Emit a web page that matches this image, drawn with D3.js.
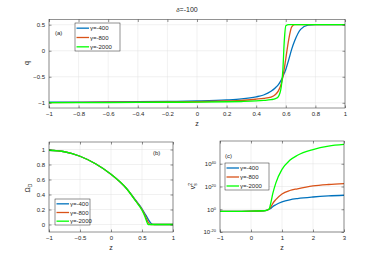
<!DOCTYPE html>
<html>
<head>
<meta charset="utf-8">
<script src="https://d3js.org/d3.v7.min.js"></script>
<style>
  body { margin: 0; background: #fff; }
  svg { font-family: "Liberation Sans", Arial, sans-serif; }
  .tick text { font-size: 6px; fill: #262626; }
  .domain { display: none; }
  .tick line { stroke: #262626; stroke-width: 0.5; }
  .grid line { stroke: #e3e3e3; stroke-width: 0.5; }
  .lbl { font-size: 6px; fill: #262626; }
</style>
</head>
<body>
<svg id="chart" width="374" height="260"></svg>
<script>
const gammas = ["γ=-400", "γ=-800", "γ=-2000"];
const colors = ["#0072BD", "#D95319", "#00FF00"];

// panel (a): q(z)
const zA = [-1, -0.6, -0.2, 0, 0.2, 0.3, 0.4, 0.45, 0.5, 0.53, 0.55, 0.57, 0.58, 0.59, 0.6, 0.62, 0.64, 0.66, 0.7, 0.75, 0.8, 1];
const qBlue  = [-0.99, -0.985, -0.975, -0.965, -0.945, -0.925, -0.885, -0.85, -0.78, -0.71, -0.65, -0.56, -0.5, -0.43, -0.36, -0.17, 0.03, 0.19, 0.41, 0.49, 0.5, 0.5];
const qRed   = [-0.995, -0.99, -0.985, -0.98, -0.965, -0.955, -0.93, -0.915, -0.89, -0.84, -0.77, -0.63, -0.5, -0.34, -0.15, 0.22, 0.46, 0.5, 0.5, 0.5, 0.5, 0.5];
const qGreen = [-0.998, -0.995, -0.99, -0.988, -0.98, -0.975, -0.965, -0.955, -0.94, -0.92, -0.88, -0.68, -0.38, 0.2, 0.48, 0.5, 0.5, 0.5, 0.5, 0.5, 0.5, 0.5];

// panel (b): Omega_D(z)
const zB = [-1, -0.75, -0.5, -0.25, 0, 0.25, 0.4, 0.5, 0.55, 0.58, 0.6, 0.63, 0.66, 0.7, 1];
const omBlue  = [0.99, 0.97, 0.91, 0.81, 0.67, 0.48, 0.32, 0.21, 0.14, 0.1, 0.07, 0.03, 0.005, 0, 0];
const omRed   = [0.99, 0.97, 0.91, 0.81, 0.67, 0.48, 0.315, 0.2, 0.12, 0.065, 0.03, 0.003, 0, 0, 0];
const omGreen = [0.99, 0.97, 0.91, 0.81, 0.67, 0.48, 0.31, 0.19, 0.1, 0.03, 0, 0, 0, 0, 0];

// panel (c): v_s^2(z), log axis
const zC = [-1, -0.5, 0, 0.4, 0.5, 0.58, 0.65, 0.7, 0.8, 1, 1.25, 1.5, 2, 2.5, 3];
const vBlue  = [0.016, 0.016, 0.02, 0.05, 0.13, 1, 10, 200, 1e4, 3e6, 2e8, 2.5e9, 6e10, 5e11, 2e12];
const vRed   = [0.016, 0.016, 0.02, 0.05, 0.13, 1, 300, 1e5, 3e8, 3e13, 3e16, 1e18, 3e20, 6e21, 4e22];
const vGreen = [0.016, 0.016, 0.02, 0.05, 0.13, 1, 1e7, 3e13, 1e23, 1e35, 1e43, 3e47, 3e52, 3e55, 1e57];

const xTicksA = [-1, -0.8, -0.6, -0.4, -0.2, 0, 0.2, 0.4, 0.6, 0.8, 1];
const yTicksA = [-1, -0.5, 0, 0.5];
const xTicksB = [-1, -0.5, 0, 0.5, 1];
const yTicksB = [0, 0.2, 0.4, 0.6, 0.8, 1];
const xTicksC = [-1, 0, 1, 2, 3];
const yTicksC = [1e-20, 1, 1e20, 1e40];

const svg = d3.select("#chart");

svg.append("text").attr("x", 187).attr("y", 12).attr("text-anchor", "middle")
    .style("font-size", "7px").style("fill", "#262626")
    .html('<tspan style="font-style:italic;font-size:6px">δ</tspan>=-100');

function panel(p) {
    const x = p.xScale.range([p.left, p.right]);
    const y = p.yScale.range([p.bottom, p.top]);
    const g = svg.append("g");

    // grid
    g.append("g").attr("class", "grid").selectAll("line.v").data(p.xTicks).enter().append("line")
        .attr("x1", d => x(d)).attr("x2", d => x(d)).attr("y1", p.top).attr("y2", p.bottom);
    g.append("g").attr("class", "grid").selectAll("line.h").data(p.yTicks).enter().append("line")
        .attr("y1", d => y(d)).attr("y2", d => y(d)).attr("x1", p.left).attr("x2", p.right);

    // lines
    const line = d3.line().x(d => x(d[0])).y(d => y(d[1])).curve(d3.curveMonotoneX);
    p.series.forEach((s, i) => {
        g.append("path").datum(p.z.map((z, j) => [z, s[j]]))
            .attr("d", line).attr("fill", "none")
            .attr("stroke", colors[i]).attr("stroke-width", 1.3);
    });

    // axes with inward ticks
    g.append("g").attr("transform", `translate(0,${p.bottom})`)
        .call(d3.axisBottom(x).tickValues(p.xTicks).tickSize(-2.5).tickPadding(4).tickFormat(p.xFormat || d3.format("")));
    g.append("g").attr("transform", `translate(0,${p.top})`)
        .call(d3.axisTop(x).tickValues(p.xTicks).tickSize(-2.5).tickFormat(""));
    const ya = g.append("g").attr("transform", `translate(${p.left},0)`)
        .call(d3.axisLeft(y).tickValues(p.yTicks).tickSize(-2.5).tickPadding(4).tickFormat(p.yFormat || d3.format("")));
    g.append("g").attr("transform", `translate(${p.right},0)`)
        .call(d3.axisRight(y).tickValues(p.yTicks).tickSize(-2.5).tickFormat(""));
    if (p.logLabels) {
        ya.selectAll(".tick text").text(null).each(function(d) {
            const t = d3.select(this);
            t.append("tspan").text("10");
            t.append("tspan").attr("dy", "-0.5em").style("font-size", "4px").text(Math.round(Math.log10(d)));
        });
    }

    g.append("rect").attr("x", p.left).attr("y", p.top)
        .attr("width", p.right - p.left).attr("height", p.bottom - p.top)
        .attr("fill", "none").attr("stroke", "#262626").attr("stroke-width", 0.5);

    // x label
    g.append("text").attr("class", "lbl").attr("x", (p.left + p.right) / 2).attr("y", p.bottom + 18)
        .attr("text-anchor", "middle").style("font-size", "7px").text("z");

    // panel tag
    g.append("text").attr("class", "lbl").attr("x", p.tag[1]).attr("y", p.tag[2]).text(p.tag[0]);

    // legend
    const L = p.legend;
    const lg = g.append("g");
    lg.append("rect").attr("x", L.x).attr("y", L.y).attr("width", L.w).attr("height", L.h)
        .attr("fill", "#fff").attr("stroke", "#262626").attr("stroke-width", 0.5);
    gammas.forEach((name, i) => {
        const yy = L.y + L.h * (i + 0.5) / 3 + 0.5;
        lg.append("line").attr("x1", L.x + 1.5).attr("x2", L.x + 14).attr("y1", yy).attr("y2", yy)
            .attr("stroke", colors[i]).attr("stroke-width", 1.3);
        lg.append("text").attr("class", "lbl").attr("x", L.x + 15).attr("y", yy + 2.1).text(name);
    });
    return g;
}

panel({
    xScale: d3.scaleLinear().domain([-1, 1]), yScale: d3.scaleLinear().domain([-1.1, 0.6]),
    left: 49, right: 345, top: 19.5, bottom: 108,
    xTicks: xTicksA, yTicks: yTicksA, z: zA, series: [qBlue, qRed, qGreen],
    tag: ["(a)", 55, 35], legend: { x: 75, y: 23, w: 45, h: 28 }
});
svg.append("text").attr("class", "lbl").attr("transform", "translate(29,63) rotate(-90)")
    .attr("text-anchor", "middle").style("font-size", "7px").text("q");

panel({
    xScale: d3.scaleLinear().domain([-1, 1]), yScale: d3.scaleLinear().domain([-0.1, 1.1]),
    left: 49, right: 173, top: 142, bottom: 232,
    xTicks: xTicksB, yTicks: yTicksB, z: zB, series: [omBlue, omRed, omGreen],
    tag: ["(b)", 153, 155], legend: { x: 55, y: 199, w: 35, h: 26 }
});
svg.append("text").attr("class", "lbl").attr("transform", "translate(30,188) rotate(-90)")
    .attr("text-anchor", "middle").style("font-size", "7px")
    .html('Ω<tspan dy="2" style="font-size:5px">D</tspan>');

panel({
    xScale: d3.scaleLinear().domain([-1, 3]), yScale: d3.scaleLog().domain([1e-20, 1e60]),
    left: 220, right: 344, top: 141, bottom: 232,
    xTicks: xTicksC, yTicks: yTicksC, z: zC, series: [vBlue, vRed, vGreen],
    logLabels: true,
    tag: ["(c)", 225, 158], legend: { x: 225, y: 163, w: 44, h: 27 }
});
svg.append("text").attr("class", "lbl").attr("transform", "translate(195,186) rotate(-90)")
    .attr("text-anchor", "middle").style("font-size", "7px")
    .html('v<tspan dy="-3" style="font-size:5px">2</tspan><tspan dx="-3" dy="5" style="font-size:5px">s</tspan>');
</script>
</body>
</html>
